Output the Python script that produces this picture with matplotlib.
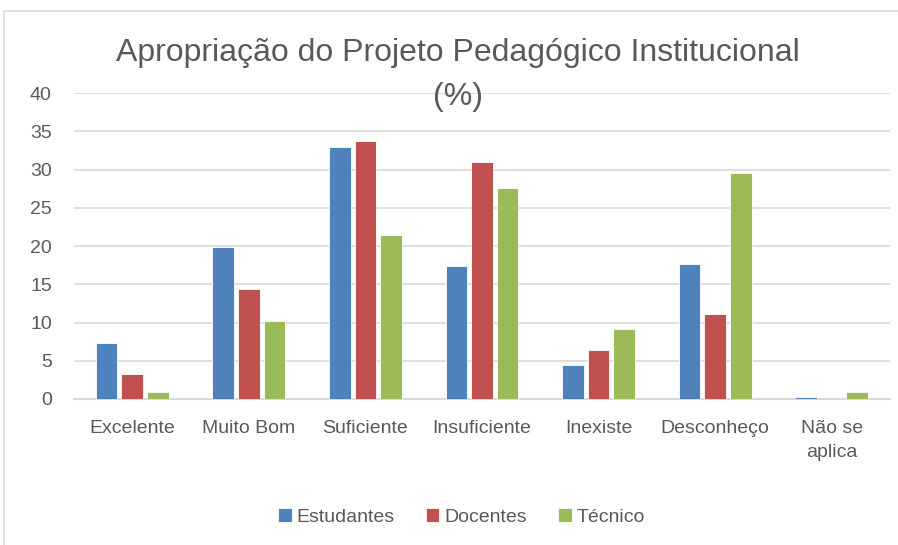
import numpy as np
import matplotlib.pyplot as plt
from matplotlib.patches import Rectangle

plt.rcParams['font.family'] = ['Liberation Sans', 'DejaVu Sans']

categorias = ["Excelente", "Muito Bom", "Suficiente", "Insuficiente",
              "Inexiste", "Desconheço", "Não se\naplica"]
estudantes = [7.3, 19.9, 32.9, 17.4, 4.4, 17.7, 0.3]
docentes = [3.2, 14.4, 33.7, 31.0, 6.4, 11.1, 0.0]
tecnico = [0.9, 10.2, 21.4, 27.6, 9.2, 29.6, 0.9]
series = [("Estudantes", estudantes, "#4f81bd"),
          ("Docentes", docentes, "#c0504d"),
          ("Técnico", tecnico, "#9bbb59")]

ink = "#595959"
fig = plt.figure(figsize=(8.98, 5.45), dpi=100)
ax = fig.add_axes([0.0824, 0.268, 0.9086, 0.561])

x = np.arange(len(categorias))
w = 0.22
for k, (nome, vals, cor) in enumerate(series):
    ax.bar(x + (k - 1) * w, vals, width=0.185, color=cor, label=nome,
           edgecolor="white", linewidth=0.6, zorder=3)

ax.set_xlim(-0.5, len(categorias) - 0.5)
ax.set_ylim(0, 40)
ax.set_yticks(range(0, 41, 5))
ax.yaxis.grid(True, color="#d9d9d9", linewidth=1.2, zorder=0)
ax.set_xticks(x, categorias)
for s in ("top", "right", "left"):
    ax.spines[s].set_visible(False)
ax.spines["bottom"].set_color("#d9d9d9")
ax.spines["bottom"].set_linewidth(1.5)
ax.tick_params(axis="both", length=0, colors=ink, labelsize=14)
ax.tick_params(axis="y", pad=16)
ax.tick_params(axis="x", pad=15)
for t in ax.get_xticklabels():
    t.set_verticalalignment("top")
    t.set_linespacing(1.55)

fig.text(0.51, 0.863, "Apropriação do Projeto Pedagógico Institucional\n(%)",
         ha="center", va="center", fontsize=23, color=ink, linespacing=1.6)

ax.legend(loc="upper center", bbox_to_anchor=(0.475, -0.3), ncol=3,
          frameon=False, fontsize=14, labelcolor=ink, handlelength=0.7,
          handleheight=0.7, handletextpad=0.25, columnspacing=1.6)

fig.patches.append(Rectangle((4 / 898, -0.01), 1.0, 1 - 11 / 545 + 0.01,
                             transform=fig.transFigure, fill=False,
                             edgecolor="#d9d9d9", linewidth=1.2))

fig.savefig("out.png", dpi=100)
